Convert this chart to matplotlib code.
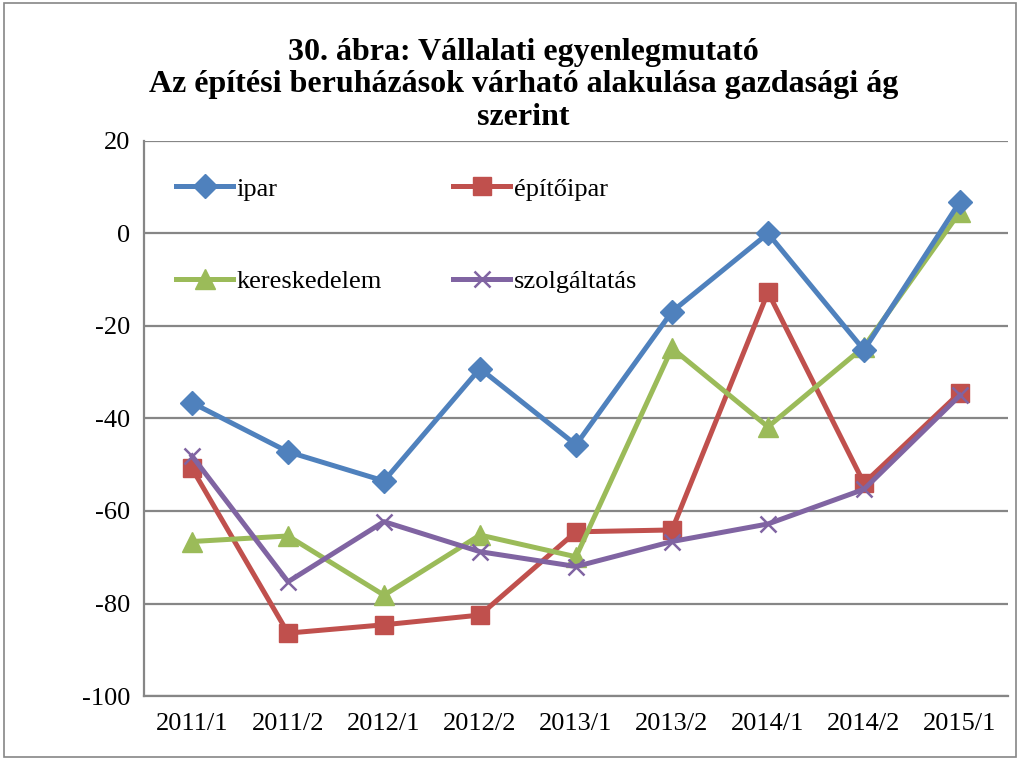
import matplotlib.pyplot as plt
from matplotlib.patches import Rectangle

# adatok
categories = ["2011/1", "2011/2", "2012/1", "2012/2", "2013/1",
              "2013/2", "2014/1", "2014/2", "2015/1"]
ipar = [-36.6, -47.2, -53.5, -29.2, -45.7, -16.9, 0.0, -25.2, 6.9]
epitoipar = [-50.8, -86.4, -84.6, -82.5, -64.5, -64.1, -12.7, -54.0, -34.4]
kereskedelem = [-66.6, -65.4, -78.2, -65.2, -69.9, -24.8, -41.8, -24.5, 4.7]
szolgaltatas = [-48.1, -75.3, -62.3, -68.8, -72.0, -66.6, -62.8, -55.3, -35.0]
yticks = [20, 0, -20, -40, -60, -80, -100]

plt.rcParams['font.family'] = ['Liberation Serif', 'DejaVu Serif']
plt.rcParams['axes.unicode_minus'] = False

fig = plt.figure(figsize=(10.22, 7.62), dpi=100)
ax = fig.add_axes([0.1409, 0.0866, 0.8454, 0.7284])

x = range(len(categories))
l1, = ax.plot(x, ipar, color="#4F81BD", lw=3.6, marker="D", ms=12, label="ipar", zorder=4)
l2, = ax.plot(x, epitoipar, color="#C0504D", lw=3.6, marker="s", ms=13, label="építőipar", zorder=3)
l3, = ax.plot(x, kereskedelem, color="#9BBB59", lw=3.6, marker="^", ms=14, label="kereskedelem", zorder=3)
l4, = ax.plot(x, szolgaltatas, color="#8064A2", lw=3.6, marker="x", ms=12, mew=1.8,
              label="szolgáltatás", zorder=3)

ax.set_xlim(-0.5, len(categories) - 0.5)
ax.set_ylim(-100, 20)
ax.set_yticks(yticks)
ax.set_xticks(list(x))
ax.set_xticklabels(categories)
ax.tick_params(axis="both", labelsize=19, length=0)
ax.tick_params(axis="y", pad=10)
ax.tick_params(axis="x", pad=12)
ax.grid(axis="y", color="#868686", lw=1.6)
ax.set_axisbelow(True)
for s in ["top", "right"]:
    ax.spines[s].set_visible(False)
ax.spines["left"].set_color("#868686")
ax.spines["left"].set_linewidth(1.6)
ax.spines["bottom"].set_color("#868686")
ax.spines["bottom"].set_linewidth(1.6)

# sorrend: soronként ipar, építőipar / kereskedelem, szolgáltatás
ax.legend([l1, l3, l2, l4], ["ipar", "kereskedelem", "építőipar", "szolgáltatás"],
          ncol=2, loc="upper left", bbox_to_anchor=(0.025, 0.954), frameon=False,
          fontsize=19, handlelength=2.15, handletextpad=0.15, labelspacing=2.62,
          columnspacing=2.7, borderaxespad=0)

fig.text(0.512, 0.8885,
         "30. ábra: Vállalati egyenlegmutató\n"
         "Az építési beruházások várható alakulása gazdasági ág\nszerint",
         ha="center", va="center", fontsize=23, fontweight="bold", linespacing=1.16)

fig.patches.append(Rectangle((0.004, 0.006), 0.99, 0.99, transform=fig.transFigure,
                             fill=False, ec="#868686", lw=1.2))

fig.savefig("out.png", dpi=100)
